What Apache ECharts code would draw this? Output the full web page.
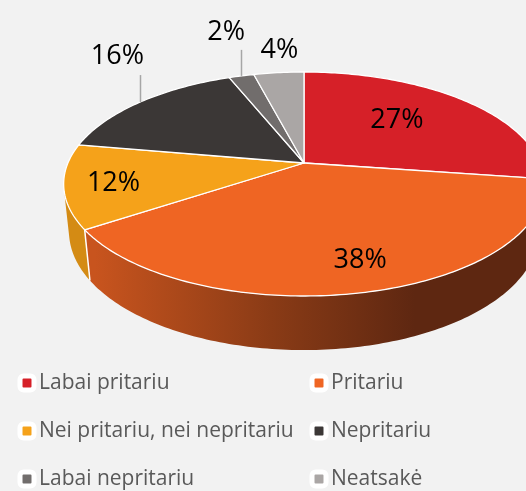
<!DOCTYPE html>
<html>
<head>
<meta charset="utf-8">
<script src="https://cdn.jsdelivr.net/npm/echarts@6/dist/echarts.min.js"></script>
<style>
  html, body { margin: 0; padding: 0; background: #f2f2f2; }
  #chart { width: 526px; height: 491px; }
</style>
</head>
<body>
<div id="chart"></div>
<script>
const names = ['Labai pritariu', 'Pritariu', 'Nei pritariu, nei nepritariu', 'Nepritariu', 'Labai nepritariu', 'Neatsakė']
const values = [27, 38, 12, 16, 2, 4]

// styles
const colors = ['#d62028', '#ef6523', '#f5a21a', '#3b3736', '#716d6c', '#aaa6a5']
const sideColors = ['#a8181e', null, '#d48b14', '#2a2726', '#555150', '#878382']

// perspective camera for the 3D disc
const CX = 304, CY = 163, F = 1119, D = 4.74, SA = 0.4577, CA = 0.889, H = 0.229
const VIS0 = Math.acos(-1 / (D * CA)) * 180 / Math.PI
const VIS1 = 360 - VIS0

function proj(px, py, pz) {
  const up = -py * SA + pz * CA
  const depth = D - (py * CA + pz * SA)
  return [CX + F * px / depth, CY - F * up / depth]
}
function rim(deg, r, z) {
  const a = deg * Math.PI / 180
  return proj(r * Math.sin(a), -r * Math.cos(a), z || 0)
}
function arc(a0, a1, z) {
  const pts = []
  const n = Math.max(2, Math.ceil(Math.abs(a1 - a0) / 1))
  for (let k = 0; k <= n; k++) pts.push(rim(a0 + (a1 - a0) * k / n, 1, z))
  return pts
}

const total = values.reduce((a, b) => a + b, 0)
const startOf = (i) => values.slice(0, i).reduce((a, b) => a + b, 0) / total * 360

// label placement (style): inside radius or outside with leader line
const labelStyle = [
  { r: 0.6, da: -4 },
  { r: 0.8, da: -2 },
  { r: 0.8, da: -1 },
  { line: 27, dx: 3.5, dy: -19 },
  { line: 26, dx: 3.5, dy: -18 },
  { line: 0, dx: 0, dy: -22, center: true },
]
const labelFont = '27px "Open Sans", "Noto Sans", sans-serif'

function renderSlice(i) {
  return function (params, api) {
    const v = api.value(0)
    const a0 = startOf(i)
    const a1 = a0 + v / total * 360
    const children = []

    // side wall
    const w0 = Math.max(a0, VIS0), w1 = Math.min(a1, VIS1)
    if (w1 > w0) {
      const top = arc(w0, w1, 0)
      const bot = arc(w1, w0, -H)
      let fill = sideColors[i]
      if (i === 1) {
        fill = new echarts.graphic.LinearGradient(95, 0, 415, 0, [
          { offset: 0, color: '#c8541e' },
          { offset: 0.55, color: '#8a3b16' },
          { offset: 1, color: '#5e2711' },
        ], true)
      }
      children.push({ type: 'polygon', shape: { points: top.concat(bot) }, style: { fill: fill } })
      if (a0 > VIS0 && a0 < VIS1) {
        const p = rim(a0, 1, 0), q = rim(a0, 1, -H)
        children.push({
          type: 'line',
          shape: { x1: p[0], y1: p[1], x2: q[0], y2: q[1] },
          style: { stroke: '#ffffff', lineWidth: 1.5 },
        })
      }
    }

    // top face
    const face = [proj(0, 0, 0)].concat(arc(a0, a1, 0))
    children.push({
      type: 'polygon',
      shape: { points: face },
      style: { fill: colors[i], stroke: '#ffffff', lineWidth: 1.3, lineJoin: 'round' },
    })

    // label
    const mid = (a0 + a1) / 2
    const ls = labelStyle[i]
    const txt = v + '%'
    if (ls.r) {
      const p = rim(mid + ls.da, ls.r, 0)
      children.push({ type: 'text', style: { text: txt, x: p[0], y: p[1], font: labelFont, fill: '#000', align: 'center', verticalAlign: 'middle', textAlign: 'center', textVerticalAlign: 'middle' } })
    } else {
      const e = rim(mid, 1, 0)
      const tx = Math.round(e[0]) + 0.5
      const ty = e[1] - ls.line
      if (ls.line > 0) {
        children.push({ type: 'line', shape: { x1: tx, y1: e[1], x2: tx, y2: ty }, style: { stroke: '#a6a6a6', lineWidth: 1.5 } })
      }
      const al = ls.center ? 'center' : 'right'
      children.push({ type: 'text', style: { text: txt, x: tx + ls.dx, y: ty + ls.dy, font: labelFont, fill: '#000', align: al, verticalAlign: 'middle', textAlign: al, textVerticalAlign: 'middle' } })
    }

    return { type: 'group', children: children }
  }
}

const chart = echarts.init(document.getElementById('chart'))

const legendBase = {
  orient: 'vertical',
  top: 372,
  padding: 0,
  itemWidth: 14,
  itemHeight: 14,
  itemGap: 26,
  icon: 'roundRect',
  itemStyle: { borderColor: '#ffffff', borderWidth: 5 },
  textStyle: { fontFamily: '"Open Sans", "Noto Sans", sans-serif', fontSize: 21, color: '#595959', lineHeight: 22 },
  selectedMode: false,
}

chart.setOption({
  backgroundColor: '#f2f2f2',
  animation: false,
  legend: [
    { ...legendBase, left: 17.5, data: [names[0], names[2], names[4]] },
    { ...legendBase, left: 309.5, data: [names[1], names[3], names[5]] },
  ],
  series: names.map((n, i) => ({
    type: 'custom',
    name: n,
    coordinateSystem: 'none',
    itemStyle: { color: colors[i] },
    renderItem: renderSlice(i),
    data: [[values[i]]],
  })),
})
</script>
</body>
</html>
